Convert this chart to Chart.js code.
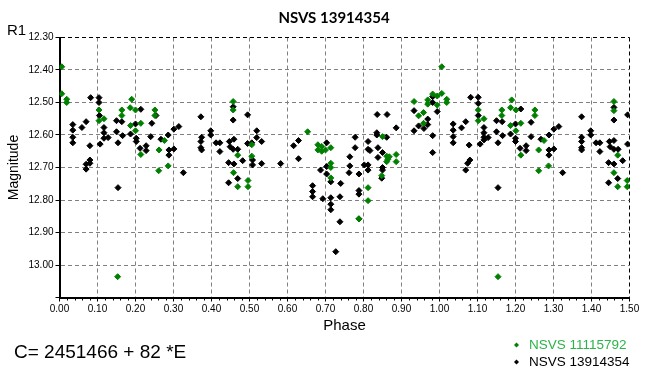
<!DOCTYPE html>
<html>
<head>
<meta charset="utf-8">
<script src="https://cdn.jsdelivr.net/npm/chart.js@4.4.0/dist/chart.umd.min.js"></script>
<style>
html, body { margin: 0; padding: 0; background: #fff; }
</style>
</head>
<body>
<canvas id="light-curve" width="668" height="376"></canvas>
<script>
// 축 눈금 라벨
var phaseLabels = ['0.00', '0.10', '0.20', '0.30', '0.40', '0.50', '0.60', '0.70', '0.80', '0.90', '1.00', '1.10', '1.20', '1.30', '1.40', '1.50'];
var magLabels = ['12.30', '12.40', '12.50', '12.60', '12.70', '12.80', '12.90', '13.00'];

var greenName = 'NSVS 11115792';
var blackName = 'NSVS 13914354';

// [phase, magnitude]
var greenPoints = [
    [0.006, 12.39], [0.006, 12.473], [0.019, 12.49], [0.019, 12.50],
    [0.104, 12.523], [0.104, 12.556], [0.117, 12.55],
    [0.164, 12.523], [0.164, 12.54], [0.19, 12.49], [0.186, 12.516], [0.20, 12.523], [0.187, 12.571], [0.20, 12.587], [0.214, 12.564],
    [0.251, 12.523], [0.251, 12.54], [0.276, 12.617], [0.262, 12.646], [0.214, 12.66], [0.261, 12.71], [0.286, 12.695],
    [0.153, 13.036],
    [0.457, 12.497], [0.457, 12.523], [0.469, 12.662], [0.458, 12.716], [0.469, 12.759], [0.496, 12.74], [0.496, 12.759], [0.506, 12.63], [0.506, 12.665],
    [0.653, 12.59], [0.68, 12.63], [0.68, 12.646], [0.69, 12.635], [0.69, 12.65], [0.70, 12.646], [0.714, 12.639], [0.714, 12.687], [0.714, 12.70], [0.714, 12.732],
    [0.848, 12.725], [0.812, 12.762], [0.812, 12.802], [0.788, 12.858],
    [0.85, 12.605], [0.861, 12.665], [0.864, 12.675], [0.868, 12.667], [0.886, 12.66], [0.886, 12.682], [0.861, 12.682],
    [0.933, 12.497], [0.945, 12.541], [0.958, 12.531], [0.958, 12.564], [0.969, 12.492], [0.969, 12.505], [0.982, 12.474], [0.994, 12.48], [1.006, 12.472], [0.994, 12.508], [1.019, 12.49], [1.019, 12.50], [1.006, 12.39],
    [1.102, 12.523], [1.102, 12.556], [1.117, 12.55], [1.164, 12.523], [1.164, 12.54], [1.19, 12.492], [1.187, 12.516], [1.201, 12.523], [1.187, 12.571], [1.214, 12.564], [1.201, 12.587], [1.214, 12.662],
    [1.251, 12.523], [1.251, 12.54], [1.275, 12.617], [1.261, 12.646], [1.261, 12.71], [1.287, 12.695], [1.154, 13.036],
    [1.459, 12.497], [1.459, 12.525], [1.469, 12.662], [1.459, 12.716], [1.469, 12.759], [1.494, 12.74], [1.494, 12.759]
];

var blackPoints = [
    [0.082, 12.485], [0.104, 12.485], [0.104, 12.50], [0.105, 12.54],
    [0.035, 12.568], [0.035, 12.585], [0.035, 12.607], [0.035, 12.624], [0.059, 12.577], [0.07, 12.559], [0.08, 12.633], [0.07, 12.69], [0.07, 12.705], [0.08, 12.677], [0.08, 12.687],
    [0.117, 12.577], [0.117, 12.593], [0.117, 12.61], [0.128, 12.608], [0.107, 12.628],
    [0.15, 12.556], [0.164, 12.559], [0.15, 12.59], [0.166, 12.602], [0.154, 12.624], [0.187, 12.597], [0.20, 12.566], [0.214, 12.521], [0.202, 12.61], [0.202, 12.62], [0.212, 12.641],
    [0.228, 12.633], [0.228, 12.648], [0.24, 12.605], [0.243, 12.564], [0.254, 12.54], [0.267, 12.613], [0.286, 12.60], [0.288, 12.646], [0.288, 12.662], [0.301, 12.643], [0.301, 12.582], [0.314, 12.574], [0.326, 12.716], [0.154, 12.762],
    [0.372, 12.544], [0.374, 12.607], [0.372, 12.62], [0.372, 12.639], [0.374, 12.646],
    [0.398, 12.587], [0.398, 12.60], [0.412, 12.624], [0.422, 12.624], [0.422, 12.651], [0.447, 12.62], [0.459, 12.613], [0.449, 12.636], [0.457, 12.644], [0.469, 12.644], [0.445, 12.685], [0.459, 12.689],
    [0.457, 12.513], [0.457, 12.554], [0.495, 12.538], [0.482, 12.679], [0.469, 12.734], [0.445, 12.747],
    [0.495, 12.626], [0.506, 12.624], [0.519, 12.587], [0.519, 12.608], [0.532, 12.62], [0.508, 12.677], [0.508, 12.692], [0.532, 12.688], [0.582, 12.688], [0.616, 12.633], [0.629, 12.617], [0.629, 12.673],
    [0.703, 12.624], [0.703, 12.697], [0.703, 12.72], [0.687, 12.708], [0.666, 12.756], [0.666, 12.774], [0.666, 12.79], [0.714, 12.744], [0.74, 12.749], [0.693, 12.796], [0.714, 12.793], [0.714, 12.813], [0.714, 12.83],
    [0.738, 12.79], [0.738, 12.867], [0.727, 12.959], [0.762, 12.716],
    [0.778, 12.607], [0.778, 12.639], [0.764, 12.667], [0.764, 12.695], [0.788, 12.72], [0.812, 12.62], [0.812, 12.644], [0.817, 12.648], [0.802, 12.692], [0.812, 12.692], [0.812, 12.708],
    [0.835, 12.593], [0.835, 12.60], [0.838, 12.639], [0.838, 12.669], [0.85, 12.654], [0.85, 12.70], [0.85, 12.708], [0.861, 12.607], [0.836, 12.537], [0.862, 12.537], [0.886, 12.578], [0.848, 12.733],
    [0.788, 12.771], [0.788, 12.782], [0.788, 12.858],
    [0.933, 12.525], [0.933, 12.587], [0.945, 12.572], [0.959, 12.58], [0.969, 12.568], [0.969, 12.551], [0.982, 12.482], [0.982, 12.50], [0.994, 12.528], [0.982, 12.602], [0.982, 12.654],
    [1.036, 12.566], [1.036, 12.585], [1.036, 12.605], [1.036, 12.624], [1.058, 12.578], [1.069, 12.559], [1.082, 12.484], [1.102, 12.484], [1.102, 12.503], [1.102, 12.54],
    [1.078, 12.631], [1.08, 12.677], [1.074, 12.687], [1.069, 12.708],
    [1.117, 12.577], [1.117, 12.593], [1.117, 12.607], [1.117, 12.615], [1.128, 12.608], [1.107, 12.628], [1.15, 12.556], [1.165, 12.559], [1.15, 12.59], [1.166, 12.602], [1.154, 12.624],
    [1.214, 12.52], [1.187, 12.597], [1.20, 12.566], [1.20, 12.61], [1.20, 12.62], [1.212, 12.641], [1.228, 12.633], [1.228, 12.648], [1.241, 12.561], [1.241, 12.605], [1.267, 12.613],
    [1.288, 12.60], [1.288, 12.646], [1.288, 12.662], [1.301, 12.643], [1.301, 12.582], [1.314, 12.574], [1.324, 12.716], [1.154, 12.762],
    [1.374, 12.544], [1.398, 12.587], [1.398, 12.60], [1.374, 12.607], [1.374, 12.62], [1.374, 12.639], [1.374, 12.646], [1.412, 12.624], [1.422, 12.624], [1.422, 12.651],
    [1.447, 12.62], [1.459, 12.617], [1.449, 12.636], [1.459, 12.644], [1.47, 12.644], [1.459, 12.515], [1.459, 12.554], [1.495, 12.538], [1.495, 12.628], [1.482, 12.679],
    [1.445, 12.685], [1.459, 12.689], [1.469, 12.734], [1.445, 12.747]
];

function toXY(list) {
    var out = [];
    for (var i = 0; i < list.length; i++) {
        out.push({ x: list[i][0], y: list[i][1] });
    }
    return out;
}

// 값에 맞는 라벨 찾기 (없으면 빈칸)
function pickLabel(labels, v) {
    var s = Number(v).toFixed(2);
    return labels.indexOf(s) >= 0 ? s : '';
}

var GREEN = '#008000';
var GRID = '#808080';

// 제목, 범례, 주석
var extraText = {
    id: 'extraText',
    afterDraw: function (chart) {
        var ctx = chart.ctx;
        var xs = chart.scales.x;
        ctx.save();

        // x축 보조 눈금
        ctx.strokeStyle = '#000';
        ctx.lineWidth = 1;
        ctx.beginPath();
        for (var k = 0; k <= 75; k++) {
            if (k % 5 === 0) continue;
            var px = Math.round(xs.getPixelForValue(k * 0.02)) + 0.5;
            ctx.moveTo(px, chart.chartArea.bottom);
            ctx.lineTo(px, chart.chartArea.bottom + 3);
        }
        ctx.stroke();

        ctx.fillStyle = '#000';
        ctx.textBaseline = 'middle';
        ctx.textAlign = 'center';
        ctx.font = 'bold 15px Lato';
        ctx.fillText(blackName, 334, 18);

        ctx.textAlign = 'left';
        ctx.font = '15px "Liberation Sans"';
        ctx.fillText('R1', 7, 31);

        ctx.font = '19px "Liberation Sans"';
        ctx.fillText('C= 2451466 + 82 *E', 14, 353);

        ctx.font = '13.5px "Liberation Sans"';
        var items = [[greenName, GREEN, '#2db34a', 345], [blackName, '#000', '#000', 362]];
        for (var i = 0; i < items.length; i++) {
            var y = items[i][3];
            ctx.fillStyle = items[i][1];
            ctx.beginPath();
            ctx.moveTo(516.5, y - 2.5);
            ctx.lineTo(519, y);
            ctx.lineTo(516.5, y + 2.5);
            ctx.lineTo(514, y);
            ctx.closePath();
            ctx.fill();
            ctx.fillStyle = items[i][2];
            ctx.fillText(items[i][0], 529, y);
        }
        ctx.restore();
    }
};

new Chart(document.getElementById('light-curve'), {
    type: 'scatter',
    data: {
        datasets: [
            {
                label: greenName,
                data: toXY(greenPoints),
                backgroundColor: GREEN,
                borderColor: GREEN,
                pointStyle: 'rectRot',
                pointRadius: 3,
                borderWidth: 1
            },
            {
                label: blackName,
                data: toXY(blackPoints),
                backgroundColor: '#000',
                borderColor: '#000',
                pointStyle: 'rectRot',
                pointRadius: 3,
                borderWidth: 1
            }
        ]
    },
    options: {
        responsive: false,
        animation: false,
        devicePixelRatio: 1,
        layout: {
            padding: { left: 0, top: 37.5, right: 38.5, bottom: 38.5 }
        },
        plugins: {
            legend: { display: false },
            title: { display: false },
            tooltip: { enabled: false }
        },
        scales: {
            x: {
                type: 'linear',
                min: 0,
                max: 1.5,
                afterFit: function (s) { s.height = 40; },
                ticks: {
                    stepSize: 0.1,
                    color: '#000',
                    padding: 2,
                    maxRotation: 0,
                    autoSkip: false,
                    font: { family: 'Liberation Sans', size: 10 },
                    callback: function (v) { return pickLabel(phaseLabels, v); }
                },
                grid: {
                    color: function (c) { return c.tick && c.tick.value >= 1.5 ? '#000' : GRID; },
                    lineWidth: 1,
                    tickLength: 4,
                    tickColor: '#000',
                    tickBorderDash: []
                },
                border: { display: true, color: '#000', width: 2, dash: [4, 3] },
                title: {
                    display: true,
                    text: 'Phase',
                    color: '#000',
                    font: { family: 'Liberation Sans', size: 15 },
                    padding: { top: 0, bottom: 3 }
                }
            },
            y: {
                type: 'linear',
                reverse: true,
                min: 12.3,
                max: 13.1,
                afterFit: function (s) { s.width = 59.5; },
                ticks: {
                    stepSize: 0.1,
                    color: '#000',
                    padding: 2,
                    autoSkip: false,
                    font: { family: 'Liberation Sans', size: 10 },
                    callback: function (v) { return pickLabel(magLabels, v); }
                },
                grid: {
                    color: function (c) { return c.tick && c.tick.value <= 12.3 ? '#000' : GRID; },
                    lineWidth: 1,
                    tickLength: 4,
                    tickColor: '#000',
                    tickBorderDash: []
                },
                border: { display: true, color: '#000', width: 2, dash: [4, 3] },
                title: {
                    display: true,
                    text: 'Magnitude',
                    color: '#000',
                    font: { family: 'Liberation Sans', size: 14 },
                    padding: { top: 6, bottom: 0 }
                }
            }
        }
    },
    plugins: [extraText]
});
</script>
</body>
</html>
